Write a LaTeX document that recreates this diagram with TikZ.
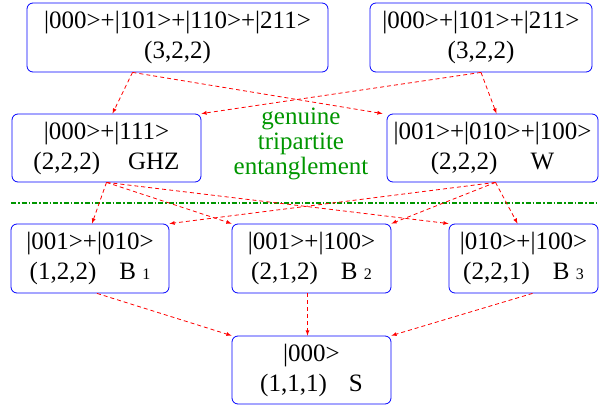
\documentclass[tikz,border=0pt]{standalone}
\usepackage{fontspec}
\setmainfont{Liberation Serif}
\usepackage{tikz}
\usetikzlibrary{arrows}

\definecolor{entgreen}{RGB}{0,150,0}
\newcommand{\bidx}[1]{{\fontsize{16}{16}\selectfont #1}}

\tikzset{
  qstate/.style={draw=blue, line width=0.8pt, rounded corners=6pt, inner sep=0pt,
    align=center, font=\fontsize{25}{30}\selectfont,
    execute at begin node=\rule{0pt}{22pt}},
  reduce/.style={red, line width=0.8pt, dash pattern=on 4pt off 3pt, -latex}
}

\begin{document}
\begin{tikzpicture}[x=1pt, y=-1pt]
    \useasboundingbox (0,0) rectangle (599,411);
    \node[qstate, minimum width=301, minimum height=69] (T1) at (177.5,37.5)
      {|000>+|101>+|110>+|211>\\(3,2,2)};
    \node[qstate, minimum width=222, minimum height=69] (T2) at (481,37.5)
      {|000>+|101>+|211>\\(3,2,2)};
    \node[qstate, minimum width=189, minimum height=68] (GHZ) at (106.5,148)
      {|000>+|111>\\(2,2,2)\hspace{28pt}GHZ};
    \node[qstate, minimum width=211, minimum height=68] (W) at (492.5,148)
      {|001>+|010>+|100>\\(2,2,2)\hspace{33pt}W};
    \node[font=\fontsize{25}{25}\selectfont, text=entgreen, align=center] (GTE) at (301,144)
      {genuine\\tripartite\\entanglement};
    \draw[entgreen, line width=1.5pt, dash pattern=on 5pt off 2pt on 1.5pt off 2pt]
      (11,203) -- (599,203);
    \node[qstate, minimum width=158, minimum height=69] (B1) at (90,258.5)
      {|001>+|010>\\(1,2,2)\hspace{23pt}B \bidx{1}};
    \node[qstate, minimum width=159, minimum height=69] (B2) at (311.5,258.5)
      {|001>+|100>\\(2,1,2)\hspace{23pt}B \bidx{2}};
    \node[qstate, minimum width=149, minimum height=69] (B3) at (523.5,258.5)
      {|010>+|100>\\(2,2,1)\hspace{23pt}B \bidx{3}};
    \node[qstate, minimum width=159, minimum height=68] (S) at (311.5,370)
      {|000>\\(1,1,1)\hspace{22pt}S};
    % reductions
    \path[reduce] ([xshift=-45pt]T1.south) edge ([xshift=6pt]GHZ.north)
          ([xshift=-45pt]T1.south) edge ([xshift=-4pt]W.north west)
          (T2.south) edge (GHZ.north east)
          (T2.south) edge ([xshift=4pt]W.north)
          (GHZ.south) edge ([xshift=2pt]B1.north)
          (GHZ.south) edge (B2.north west)
          (GHZ.south) edge (B3.north west)
          ([xshift=3pt]W.south) edge (B1.north east)
          ([xshift=3pt]W.south) edge (B2.north east)
          ([xshift=3pt]W.south) edge ([xshift=-6pt]B3.north)
          ([xshift=7pt]B1.south) edge (S.north west)
          ([xshift=-4pt]B2.south) edge ([xshift=-4pt]S.north)
          ([xshift=9pt]B3.south) edge (S.north east);
\end{tikzpicture}
\end{document}
